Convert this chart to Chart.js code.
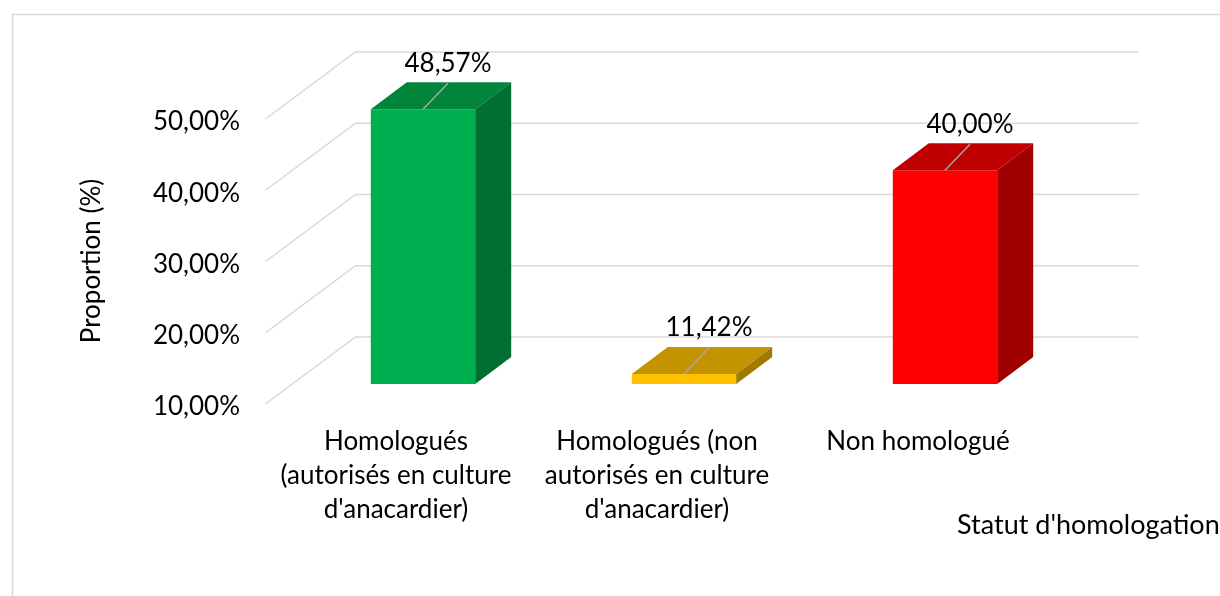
<!DOCTYPE html>
<html lang="fr">
<head>
<meta charset="utf-8">
<title>Statut d'homologation</title>
<script src="https://cdn.jsdelivr.net/npm/chart.js@4.4.1/dist/chart.umd.min.js"></script>
<style>
  html, body { margin: 0; padding: 0; background: #fff; }
  canvas { display: block; }
</style>
</head>
<body>
<canvas id="barChart" width="1220" height="596"></canvas>
<script>
const categories = [
  ['Homologués', '(autorisés en culture', "d'anacardier)"],
  ['Homologués (non', 'autorisés en culture', "d'anacardier)"],
  ['Non homologué']
];
const proportions = [48.57, 11.42, 40.00];
const yTicks = [10, 20, 30, 40, 50];
const frontColors = ['#00b050', '#ffc000', '#ff0000'];
const topColors = ['#00853b', '#c49300', '#c00000'];
const sideColors = ['#006f31', '#a37a00', '#a10000'];

const FONT = 'Lato, "Noto Sans", sans-serif';
const FONT_SIZE = 26;
// offsets from the bars' front plane to the other planes of the 3D box
const BAR_DEPTH = { dx: 36, dy: -27 };
const BACK_WALL = { dx: 63, dy: -47 };
const FRONT_EDGE = { dx: -27, dy: 20 };
const GRID_COLOR = '#d9d9d9';

const fmt = v => v.toFixed(2).replace('.', ',') + '%';

const box3d = {
  id: 'box3d',
  beforeDraw(chart) {
    const ctx = chart.ctx;
    ctx.save();
    ctx.fillStyle = '#fff';
    ctx.fillRect(0, 0, chart.width, chart.height);
    ctx.strokeStyle = GRID_COLOR;
    ctx.lineWidth = 1.5;
    ctx.strokeRect(12.5, 14.5, chart.width + 10, chart.height + 10);
    ctx.restore();
  },
  beforeDatasetsDraw(chart) {
    const { ctx, chartArea } = chart;
    const y = chart.scales.y;
    ctx.save();
    ctx.strokeStyle = GRID_COLOR;
    ctx.lineWidth = 1.5;
    yTicks.forEach(v => {
      const py = y.getPixelForValue(v);
      ctx.beginPath();
      ctx.moveTo(chartArea.left + FRONT_EDGE.dx, py + FRONT_EDGE.dy);
      ctx.lineTo(chartArea.left + BACK_WALL.dx, py + BACK_WALL.dy);
      ctx.lineTo(chartArea.right + BACK_WALL.dx, py + BACK_WALL.dy);
      ctx.stroke();
    });
    ctx.restore();
  },
  afterDatasetsDraw(chart) {
    const ctx = chart.ctx;
    const meta = chart.getDatasetMeta(0);
    ctx.save();
    meta.data.forEach((bar, i) => {
      const { x, y, base, width } = bar.getProps(['x', 'y', 'base', 'width'], true);
      const x0 = x - width / 2, x1 = x + width / 2;
      const { dx, dy } = BAR_DEPTH;
      // top face
      ctx.fillStyle = topColors[i];
      ctx.beginPath();
      ctx.moveTo(x0, y);
      ctx.lineTo(x1, y);
      ctx.lineTo(x1 + dx, y + dy);
      ctx.lineTo(x0 + dx, y + dy);
      ctx.closePath();
      ctx.fill();
      // right side face
      ctx.fillStyle = sideColors[i];
      ctx.beginPath();
      ctx.moveTo(x1, y);
      ctx.lineTo(x1 + dx, y + dy);
      ctx.lineTo(x1 + dx, base + dy);
      ctx.lineTo(x1, base);
      ctx.closePath();
      ctx.fill();
      // leader line and value label
      const lx = x + 25, ly = y - 26;
      ctx.strokeStyle = '#a6a6a6';
      ctx.lineWidth = 1.5;
      ctx.beginPath();
      ctx.moveTo(x, y);
      ctx.lineTo(lx, ly);
      ctx.stroke();
      ctx.fillStyle = '#000';
      ctx.font = FONT_SIZE + 'px ' + FONT;
      ctx.textAlign = 'center';
      ctx.textBaseline = 'middle';
      ctx.fillText(fmt(proportions[i]), lx, ly - 20);
    });
    ctx.restore();
  },
  afterDraw(chart) {
    const ctx = chart.ctx;
    ctx.save();
    ctx.fillStyle = '#000';
    ctx.font = FONT_SIZE + 'px ' + FONT;
    ctx.textBaseline = 'middle';
    ctx.textAlign = 'left';
    ctx.font = '27px ' + FONT;
    ctx.fillText("Statut d'homologation", 957, 525);
    ctx.font = FONT_SIZE + 'px ' + FONT;
    ctx.translate(92, 261);
    ctx.rotate(-Math.PI / 2);
    ctx.textAlign = 'center';
    ctx.fillText('Proportion (%)', 0, 0);
    ctx.restore();
  }
};

new Chart(document.getElementById('barChart').getContext('2d'), {
  type: 'bar',
  data: {
    labels: categories,
    datasets: [{
      data: proportions,
      base: yTicks[0],
      backgroundColor: frontColors,
      borderWidth: 0,
      categoryPercentage: 1,
      barPercentage: 0.4
    }]
  },
  options: {
    responsive: false,
    animation: false,
    devicePixelRatio: 1,
    layout: { padding: { top: 99, right: 144.5, bottom: 0, left: 0 } },
    plugins: { legend: { display: false }, tooltip: { enabled: false } },
    scales: {
      x: {
        grid: { display: false, drawTicks: false },
        border: { display: false },
        ticks: {
          color: '#000',
          font: { family: FONT, size: FONT_SIZE, lineHeight: 1.32 },
          padding: 40,
          labelOffset: FRONT_EDGE.dx,
          maxRotation: 0,
          autoSkip: false
        },
        afterFit: s => { s.height = 212; }
      },
      y: {
        min: 10,
        max: 50,
        grid: { display: false, drawTicks: false },
        border: { display: false },
        afterBuildTicks: s => { s.ticks = yTicks.map(v => ({ value: v })); },
        ticks: {
          color: '#000',
          font: { family: FONT, size: FONT_SIZE },
          padding: 52.5,
          labelOffset: FRONT_EDGE.dy + 3,
          callback: v => fmt(v)
        },
        afterFit: s => { s.width = 292.5; }
      }
    }
  },
  plugins: [box3d]
});
</script>
</body>
</html>
